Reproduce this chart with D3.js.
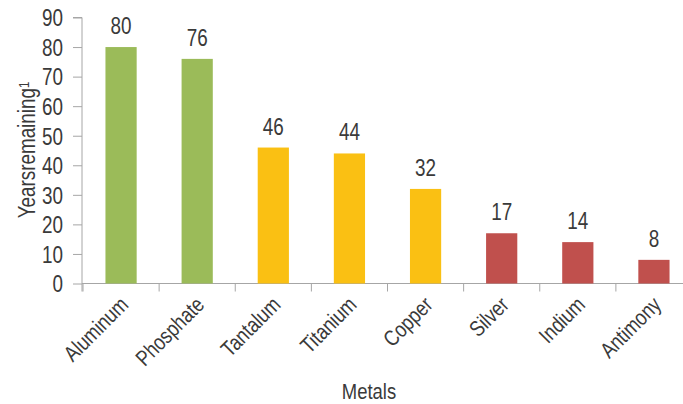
<!DOCTYPE html>
<html>
<head>
<meta charset="utf-8">
<script src="https://cdn.jsdelivr.net/npm/d3@7"></script>
<style>
  body { margin: 0; background: #fff; }
  text { font-family: "Liberation Sans", Arial, sans-serif; fill: #3a3a3a; }
</style>
</head>
<body>
<script>
// data
const metals = ["Aluminum", "Phosphate", "Tantalum", "Titanium", "Copper", "Silver", "Indium", "Antimony"];
const years = [80, 76, 46, 44, 32, 17, 14, 8];
const groups = ["long", "long", "mid", "mid", "mid", "short", "short", "short"];
const yTicks = [0, 10, 20, 30, 40, 50, 60, 70, 80, 90];

const data = metals.map(function(m, i) { return {metal: m, years: years[i], group: groups[i]}; });

const colour = d3.scaleOrdinal()
    .domain(["long", "mid", "short"])
    .range(["#9bbb59", "#fac013", "#c0504d"]);

const W = 683, H = 404;
const squeeze = 0.82; // fake a condensed face

const svg = d3.select("body").append("svg")
    .attr("width", W)
    .attr("height", H);

// scales
const x = d3.scaleBand()
    .domain(metals)
    .range([83, 692])
    .paddingInner(0.59)
    .paddingOuter(0.295);

const y = d3.scaleLinear()
    .domain([0, 90])
    .range([283.5, 17.5]);

// Y axis
const yAxis = svg.append("g")
    .attr("transform", "translate(82,0)")
    .call(d3.axisLeft(y).tickValues(yTicks).tickSize(9).tickPadding(10));
yAxis.select(".domain").attr("stroke", "#a6a6a6").attr("d", `M-9,${y(90)}H0V${y(0) + 8}`);
yAxis.selectAll(".tick line").attr("stroke", "#a6a6a6");
yAxis.selectAll(".tick text").attr("class", "sq").style("font-size", "23px").attr("dy", "0.36em");

// X axis line + boundary ticks
const boundaries = metals.map(function(m) { return x(m) - x.step() * x.paddingOuter(); });
boundaries.push(x.range()[1]);
const xg = svg.append("g");
xg.append("line")
    .attr("x1", 82).attr("x2", W)
    .attr("y1", y(0)).attr("y2", y(0))
    .attr("stroke", "#a6a6a6");
xg.selectAll(".btick")
    .data(boundaries)
    .enter()
    .append("line")
    .attr("x1", function(d) { return d; })
    .attr("x2", function(d) { return d; })
    .attr("y1", y(0))
    .attr("y2", y(0) + 8)
    .attr("stroke", "#a6a6a6");

// category labels
const xAxis = svg.append("g")
    .attr("transform", `translate(0,${y(0)})`)
    .call(d3.axisBottom(x).tickSize(0));
xAxis.select(".domain").remove();
xAxis.selectAll(".tick text")
    .attr("class", "sq")
    .style("font-size", "22px")
    .attr("text-anchor", "end")
    .attr("x", -10)
    .attr("y", 22)
    .attr("dy", 0)
    .attr("transform", "rotate(-45)");

// bars
svg.append("g")
    .selectAll("rect")
    .data(data)
    .enter()
    .append("rect")
    .attr("x", function(d) { return x(d.metal); })
    .attr("y", function(d) { return y(d.years); })
    .attr("width", x.bandwidth())
    .attr("height", function(d) { return y(0) - y(d.years); })
    .attr("fill", function(d) { return colour(d.group); });

// value labels
svg.append("g")
    .selectAll("text")
    .data(data)
    .enter()
    .append("text")
    .attr("class", "sq")
    .attr("x", function(d) { return x(d.metal) + x.bandwidth() / 2; })
    .attr("y", function(d) { return y(d.years) - 13; })
    .attr("text-anchor", "middle")
    .style("font-size", "23px")
    .text(function(d) { return d.years; });

// axis titles
svg.append("text")
    .attr("class", "sq")
    .attr("x", 369)
    .attr("y", 399)
    .attr("text-anchor", "middle")
    .style("font-size", "22.5px")
    .text("Metals");

const yt = svg.append("text")
    .attr("transform", `translate(35,150) rotate(-90) scale(${squeeze},1)`)
    .attr("text-anchor", "middle")
    .style("font-size", "23px");
yt.append("tspan").text("Yearsremaining");
yt.append("tspan").attr("dy", "-0.45em").style("font-size", "14px").text("1");

// squeeze the plain labels
svg.selectAll("text.sq").each(function() {
    const len = this.getComputedTextLength();
    d3.select(this)
        .attr("textLength", len * squeeze)
        .attr("lengthAdjust", "spacingAndGlyphs");
});
</script>
</body>
</html>
